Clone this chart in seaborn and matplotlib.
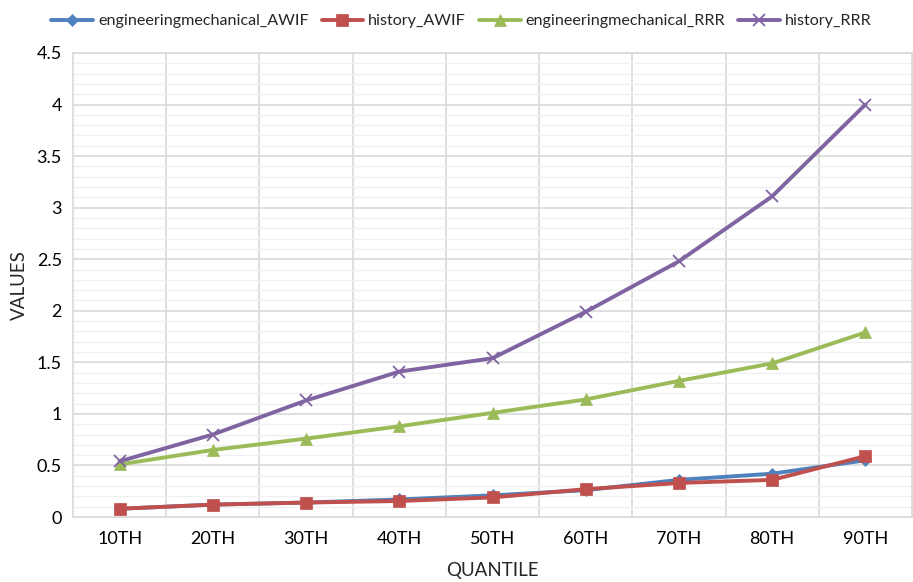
import matplotlib
matplotlib.use("Agg")
import matplotlib.pyplot as plt
import seaborn as sns
import pandas as pd
import numpy as np
from matplotlib.ticker import MultipleLocator, FuncFormatter

quantiles = ["10TH", "20TH", "30TH", "40TH", "50TH", "60TH", "70TH", "80TH", "90TH"]
eng_awif = [0.08, 0.12, 0.14, 0.17, 0.21, 0.26, 0.36, 0.42, 0.55]
hist_awif = [0.08, 0.12, 0.14, 0.155, 0.19, 0.27, 0.33, 0.36, 0.59]
eng_rrr = [0.51, 0.65, 0.76, 0.88, 1.01, 1.14, 1.32, 1.49, 1.79]
hist_rrr = [0.54, 0.80, 1.13, 1.41, 1.54, 1.99, 2.48, 3.11, 4.00]
series_names = ["engineeringmechanical_AWIF", "history_AWIF", "engineeringmechanical_RRR", "history_RRR"]

series_vals = [eng_awif, hist_awif, eng_rrr, hist_rrr]
rows = []
for name, vals in zip(series_names, series_vals):
    for i, (q, v) in enumerate(zip(quantiles, vals)):
        rows.append({"pos": i, "QUANTILE": q, "VALUES": v, "series": name})
df = pd.DataFrame(rows)

sns.set_theme(style="white")
plt.rcParams["font.family"] = ["Lato", "DejaVu Sans"]

colors = {"engineeringmechanical_AWIF": "#4F81BD", "history_AWIF": "#C0504D",
          "engineeringmechanical_RRR": "#9BBB59", "history_RRR": "#8064A2"}
markers = {"engineeringmechanical_AWIF": "D", "history_AWIF": "s",
           "engineeringmechanical_RRR": "^", "history_RRR": "x"}
msizes = {"engineeringmechanical_AWIF": 6, "history_AWIF": 9,
          "engineeringmechanical_RRR": 9, "history_RRR": 9}

fig = plt.figure(figsize=(9.13, 5.82), dpi=100)
ax = fig.add_axes([73/913, 1-517/582, (912-73)/913, (517-53)/582])

for name in series_names:
    sub = df[df["series"] == name]
    sns.lineplot(data=sub, x="pos", y="VALUES", ax=ax, color=colors[name],
                 marker=markers[name], markersize=msizes[name], linewidth=2.8,
                 markeredgecolor=colors[name], markeredgewidth=1.3 if name == "history_RRR" else 0.5,
                 label=name, zorder=3)

ax.set_xlim(-0.5, len(quantiles) - 0.5)
ax.set_ylim(0, 4.5)
ax.set_xticks(range(len(quantiles)))
ax.set_xticklabels(quantiles)
ax.yaxis.set_major_locator(MultipleLocator(0.5))
ax.yaxis.set_minor_locator(MultipleLocator(0.1))
ax.yaxis.set_major_formatter(FuncFormatter(lambda v, p: f"{v:g}"))
ax.set_xticks(np.arange(0.5, len(quantiles) - 0.5, 1), minor=True)

ax.grid(which="major", axis="y", color="#D9D9D9", linewidth=1.2)
ax.grid(which="minor", axis="y", color="#F0F0F0", linewidth=1.0)
ax.grid(which="minor", axis="x", color="#D9D9D9", linewidth=1.2)
ax.grid(which="major", axis="x", visible=False)
ax.set_axisbelow(True)
for s in ax.spines.values():
    s.set_color("#D9D9D9")
    s.set_linewidth(1.2)

ax.tick_params(axis="both", which="both", length=0, labelsize=13, colors="black")
ax.tick_params(axis="x", pad=10)
ax.tick_params(axis="y", pad=8)
ax.set_xlabel("QUANTILE", fontsize=13.5, labelpad=11)
ax.set_ylabel("VALUES", fontsize=13.5, labelpad=6)

ax.legend(loc="upper center", bbox_to_anchor=(0.463, 1.115), ncol=4, frameon=False,
          fontsize=11.6, handlelength=2.6, columnspacing=0.8, handletextpad=0.3)

fig.savefig("out.png", dpi=100)
